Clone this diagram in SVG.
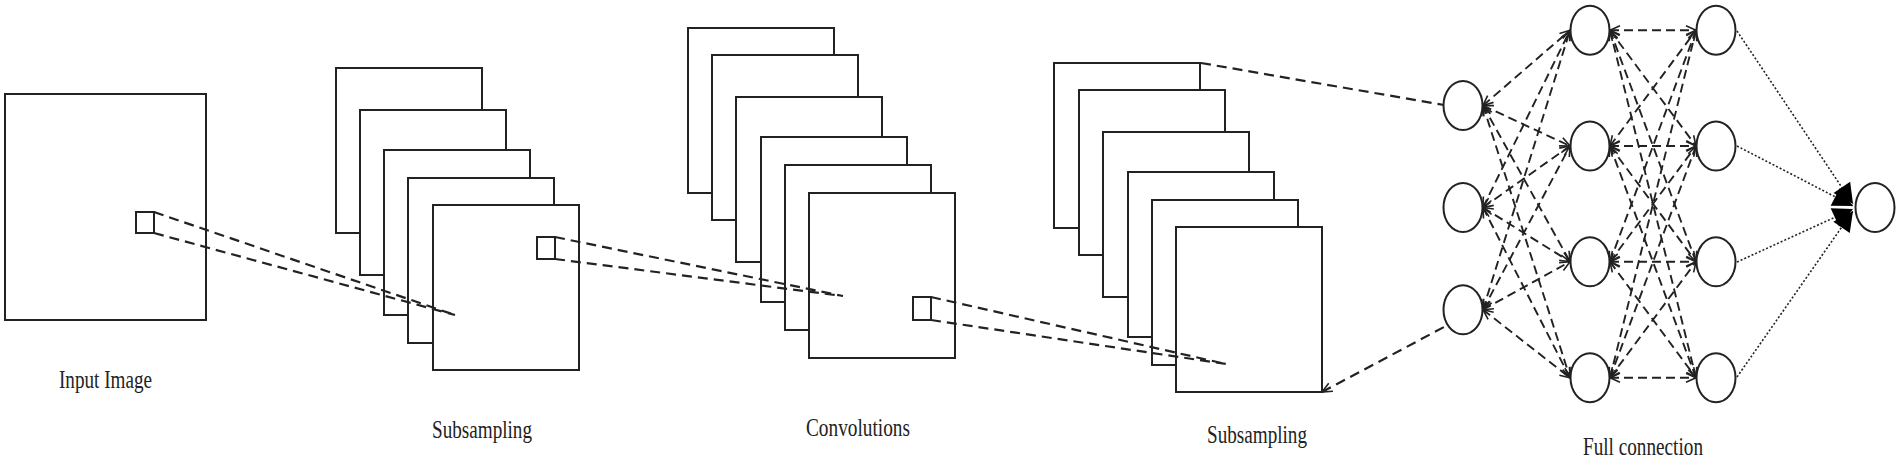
<svg xmlns="http://www.w3.org/2000/svg" width="1900" height="462" viewBox="0 0 1900 462">
<style>
.map{fill:#fff;stroke:#222;stroke-width:2}
.win{fill:none;stroke:#222;stroke-width:2}
.node{fill:#fff;stroke:#222;stroke-width:2}
.dash{fill:none;stroke:#222;stroke-width:2.2;stroke-dasharray:10,6}
.fc{fill:none;stroke:#222;stroke-width:1.9;stroke-dasharray:9,5;marker-start:url(#open);marker-end:url(#open)}
.dot{fill:none;stroke:#222;stroke-width:1.6;stroke-dasharray:2,2;marker-end:url(#solid)}
.lbl{font-family:"Liberation Serif","Times New Roman",serif;font-size:26px;fill:#222}
</style>
<defs>
<marker id="open" markerUnits="userSpaceOnUse" markerWidth="12" markerHeight="12" refX="10" refY="4.5" orient="auto-start-reverse" overflow="visible">
<path d="M0,0 L10,4.5 L0,9" fill="none" stroke="#222" stroke-width="1.6" stroke-dasharray="none"/>
</marker>
<marker id="solid" markerUnits="userSpaceOnUse" markerWidth="24" markerHeight="24" refX="20" refY="10" orient="auto" overflow="visible">
<path d="M0,0 L20,10 L0,20 z" fill="#000" stroke="none"/>
</marker>
</defs>
<rect width="1900" height="462" fill="#fff"/>

<g id="input-image">
<rect class="map" x="5" y="94" width="201" height="226"/>
<rect class="win" x="136" y="212" width="18" height="21"/>
<text class="lbl" x="59" y="388" textLength="93" lengthAdjust="spacingAndGlyphs">Input Image</text>
</g>

<g id="subsampling-1">
<rect class="map" x="336" y="68" width="146" height="165"/>
<rect class="map" x="360" y="110" width="146" height="165"/>
<rect class="map" x="384" y="150" width="146" height="165"/>
<rect class="map" x="408" y="178" width="146" height="165"/>
<rect class="map" x="433" y="205" width="146" height="165"/>
<rect class="win" x="537" y="237" width="18" height="22"/>
<text class="lbl" x="432" y="438" textLength="100" lengthAdjust="spacingAndGlyphs">Subsampling</text>
</g>

<g id="convolutions">
<rect class="map" x="688" y="28" width="146" height="165"/>
<rect class="map" x="712" y="55" width="146" height="165"/>
<rect class="map" x="736" y="97" width="146" height="165"/>
<rect class="map" x="761" y="137" width="146" height="165"/>
<rect class="map" x="785" y="165" width="146" height="165"/>
<rect class="map" x="809" y="193" width="146" height="165"/>
<rect class="win" x="913" y="297" width="18" height="23"/>
<text class="lbl" x="806" y="436" textLength="104" lengthAdjust="spacingAndGlyphs">Convolutions</text>
</g>

<g id="subsampling-2">
<rect class="map" x="1054" y="63" width="146" height="165"/>
<rect class="map" x="1079" y="90" width="146" height="165"/>
<rect class="map" x="1103" y="132" width="146" height="165"/>
<rect class="map" x="1128" y="172" width="146" height="165"/>
<rect class="map" x="1152" y="200" width="146" height="165"/>
<rect class="map" x="1176" y="227" width="146" height="165"/>
<text class="lbl" x="1207" y="443" textLength="100" lengthAdjust="spacingAndGlyphs">Subsampling</text>
</g>

<g id="connectors">
<path class="dash" d="M154,212 L455,315 M154,233 L455,315"/>
<path class="dash" d="M555,237 L843,296 M555,259 L843,296"/>
<path class="dash" d="M931,297 L1226,364 M931,320 L1226,364"/>
<path class="dash" d="M1201,63 L1444,105"/>
<path class="dash" d="M1322,392 L1444,327" marker-start="url(#open)"/>

<line class="fc" x1="1483" y1="105.5" x2="1570" y2="30.3"/>
<line class="fc" x1="1483" y1="105.5" x2="1570" y2="146"/>
<line class="fc" x1="1483" y1="105.5" x2="1570" y2="261.7"/>
<line class="fc" x1="1483" y1="105.5" x2="1570" y2="377.8"/>
<line class="fc" x1="1483" y1="207.5" x2="1570" y2="30.3"/>
<line class="fc" x1="1483" y1="207.5" x2="1570" y2="146"/>
<line class="fc" x1="1483" y1="207.5" x2="1570" y2="261.7"/>
<line class="fc" x1="1483" y1="207.5" x2="1570" y2="377.8"/>
<line class="fc" x1="1483" y1="309.7" x2="1570" y2="30.3"/>
<line class="fc" x1="1483" y1="309.7" x2="1570" y2="146"/>
<line class="fc" x1="1483" y1="309.7" x2="1570" y2="261.7"/>
<line class="fc" x1="1483" y1="309.7" x2="1570" y2="377.8"/>

<line class="fc" x1="1610" y1="30.3" x2="1696" y2="30.3"/>
<line class="fc" x1="1610" y1="30.3" x2="1696" y2="146"/>
<line class="fc" x1="1610" y1="30.3" x2="1696" y2="261.7"/>
<line class="fc" x1="1610" y1="30.3" x2="1696" y2="377.8"/>
<line class="fc" x1="1610" y1="146" x2="1696" y2="30.3"/>
<line class="fc" x1="1610" y1="146" x2="1696" y2="146"/>
<line class="fc" x1="1610" y1="146" x2="1696" y2="261.7"/>
<line class="fc" x1="1610" y1="146" x2="1696" y2="377.8"/>
<line class="fc" x1="1610" y1="261.7" x2="1696" y2="30.3"/>
<line class="fc" x1="1610" y1="261.7" x2="1696" y2="146"/>
<line class="fc" x1="1610" y1="261.7" x2="1696" y2="261.7"/>
<line class="fc" x1="1610" y1="261.7" x2="1696" y2="377.8"/>
<line class="fc" x1="1610" y1="377.8" x2="1696" y2="30.3"/>
<line class="fc" x1="1610" y1="377.8" x2="1696" y2="146"/>
<line class="fc" x1="1610" y1="377.8" x2="1696" y2="261.7"/>
<line class="fc" x1="1610" y1="377.8" x2="1696" y2="377.8"/>

<line class="dot" x1="1737" y1="31" x2="1853" y2="204"/>
<line class="dot" x1="1737" y1="146" x2="1853" y2="206"/>
<line class="dot" x1="1737" y1="262" x2="1853" y2="209"/>
<line class="dot" x1="1737" y1="377" x2="1853" y2="211"/>
</g>

<g id="fc-input-1"><ellipse class="node" cx="1463" cy="105.5" rx="19.5" ry="24.5"/></g>
<g id="fc-input-2"><ellipse class="node" cx="1463" cy="207.5" rx="19.5" ry="24.5"/></g>
<g id="fc-input-3"><ellipse class="node" cx="1463" cy="309.7" rx="19.5" ry="24.5"/></g>
<g id="fc-hidden1-1"><ellipse class="node" cx="1590" cy="30.3" rx="19.5" ry="24.5"/></g>
<g id="fc-hidden1-2"><ellipse class="node" cx="1590" cy="146" rx="19.5" ry="24.5"/></g>
<g id="fc-hidden1-3"><ellipse class="node" cx="1590" cy="261.7" rx="19.5" ry="24.5"/></g>
<g id="fc-hidden1-4"><ellipse class="node" cx="1590" cy="377.8" rx="19.5" ry="24.5"/></g>
<g id="fc-hidden2-1"><ellipse class="node" cx="1716" cy="30.3" rx="19.5" ry="24.5"/></g>
<g id="fc-hidden2-2"><ellipse class="node" cx="1716" cy="146" rx="19.5" ry="24.5"/></g>
<g id="fc-hidden2-3"><ellipse class="node" cx="1716" cy="261.7" rx="19.5" ry="24.5"/></g>
<g id="fc-hidden2-4"><ellipse class="node" cx="1716" cy="377.8" rx="19.5" ry="24.5"/></g>
<g id="fc-output"><ellipse class="node" cx="1875" cy="207.5" rx="19.5" ry="24.5"/></g>

<g id="fc-label">
<text class="lbl" x="1583" y="455" textLength="120" lengthAdjust="spacingAndGlyphs">Full connection</text>
</g>
</svg>
